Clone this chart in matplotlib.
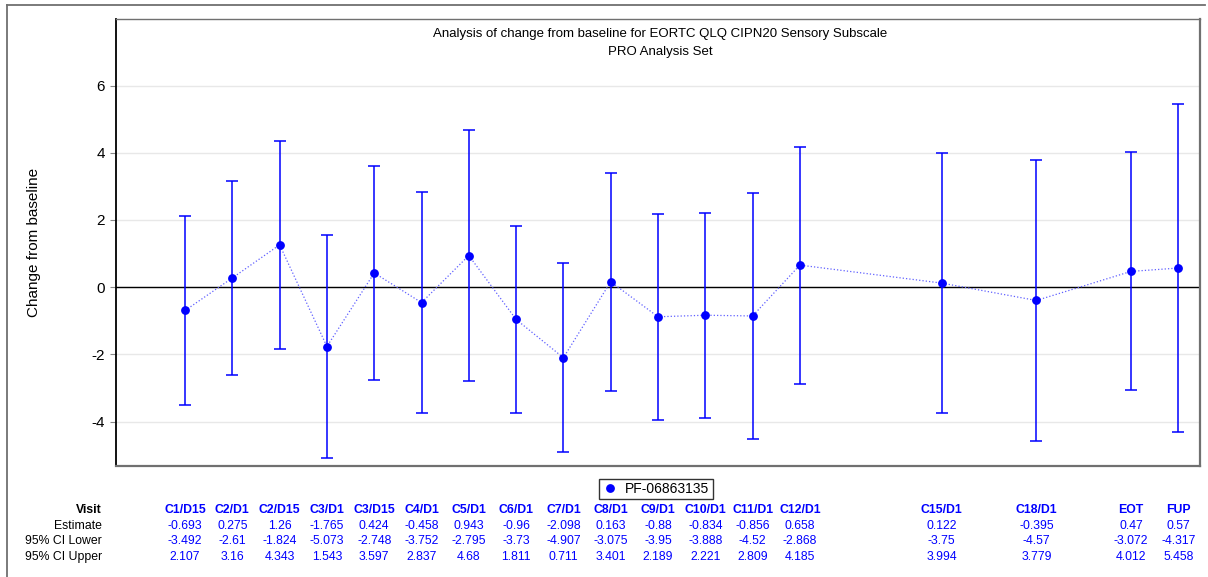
import numpy as np
import matplotlib
matplotlib.use("Agg")
import matplotlib.pyplot as plt
from matplotlib.lines import Line2D
from matplotlib.transforms import blended_transform_factory

plt.rcParams['font.family'] = ['Liberation Sans', 'DejaVu Sans']

visits = ['C1/D15', 'C2/D1', 'C2/D15', 'C3/D1', 'C3/D15', 'C4/D1', 'C5/D1', 'C6/D1',
          'C7/D1', 'C8/D1', 'C9/D1', 'C10/D1', 'C11/D1', 'C12/D1', 'C15/D1', 'C18/D1',
          'EOT', 'FUP']
xpos = [0, 1, 2, 3, 4, 5, 6, 7, 8, 9, 10, 11, 12, 13, 16, 18, 20, 21]
estimate = [-0.693, 0.275, 1.26, -1.765, 0.424, -0.458, 0.943, -0.96, -2.098, 0.163,
            -0.88, -0.834, -0.856, 0.658, 0.122, -0.395, 0.47, 0.57]
ci_lower = [-3.492, -2.61, -1.824, -5.073, -2.748, -3.752, -2.795, -3.73, -4.907, -3.075,
            -3.95, -3.888, -4.52, -2.868, -3.75, -4.57, -3.072, -4.317]
ci_upper = [2.107, 3.16, 4.343, 1.543, 3.597, 2.837, 4.68, 1.811, 0.711, 3.401,
            2.189, 2.221, 2.809, 4.185, 3.994, 3.779, 4.012, 5.458]
est_txt = ['-0.693', '0.275', '1.26', '-1.765', '0.424', '-0.458', '0.943', '-0.96', '-2.098',
           '0.163', '-0.88', '-0.834', '-0.856', '0.658', '0.122', '-0.395', '0.47', '0.57']
low_txt = ['-3.492', '-2.61', '-1.824', '-5.073', '-2.748', '-3.752', '-2.795', '-3.73', '-4.907',
           '-3.075', '-3.95', '-3.888', '-4.52', '-2.868', '-3.75', '-4.57', '-3.072', '-4.317']
up_txt = ['2.107', '3.16', '4.343', '1.543', '3.597', '2.837', '4.68', '1.811', '0.711',
          '3.401', '2.189', '2.221', '2.809', '4.185', '3.994', '3.779', '4.012', '5.458']
yticks = [-4, -2, 0, 2, 4, 6]
series_name = 'PF-06863135'

W, H = 1208, 577
fig = plt.figure(figsize=(W / 100, H / 100), dpi=100)
ax = fig.add_axes([116 / W, 1 - 466 / H, (1200 - 116) / W, (466 - 19) / H])

est = np.array(estimate)
lo = np.array(ci_lower)
hi = np.array(ci_upper)

ax.errorbar(xpos, est, yerr=[est - lo, hi - est], fmt='none', ecolor='#0000ff',
            elinewidth=1.1, capsize=4.5, capthick=1.1, zorder=3)
ax.plot(xpos, est, color='#6060ff', linestyle=':', linewidth=0.9, zorder=3)
ax.plot(xpos, est, 'o', color='#0000ff', markersize=5.3, zorder=4, label=series_name)
ax.axhline(0, color='black', linewidth=1, zorder=2)

ax.set_xlim(-1.46, 21.46)
ax.set_ylim(-5.32, 7.98)
ax.set_yticks(yticks)
ax.set_yticklabels([str(t) for t in yticks], fontsize=11)
ax.set_xticks([])
ax.yaxis.grid(True, color='#e8e8e8', linewidth=1)
ax.set_axisbelow(True)
ax.tick_params(axis='y', direction='out', length=4, color='#888888', pad=4)
ax.set_ylabel('Change from baseline', fontsize=11)
ax.yaxis.set_label_coords(-75 / (1200 - 116), 0.5)

ax.spines['left'].set_color('black')
ax.spines['left'].set_linewidth(1.3)
ax.spines['bottom'].set_color('#707070')
ax.spines['bottom'].set_linewidth(1.6)
ax.spines['top'].set_color('#707070')
ax.spines['top'].set_linewidth(1.0)
ax.spines['right'].set_color('#707070')
ax.spines['right'].set_linewidth(1.6)

fig.text(660 / W, 1 - 34 / H, 'Analysis of change from baseline for EORTC QLQ CIPN20 Sensory Subscale',
         ha='center', va='center', fontsize=9.5)
fig.text(660 / W, 1 - 52 / H, 'PRO Analysis Set', ha='center', va='center', fontsize=9.5)

leg = ax.legend(loc='center', bbox_to_anchor=(656 / W, 1 - 489 / H),
                bbox_transform=fig.transFigure, fontsize=10, frameon=True, fancybox=False,
                handlelength=1.0, handletextpad=0.6, borderpad=0.25, borderaxespad=0)
leg.get_frame().set_edgecolor('black')
leg.get_frame().set_linewidth(1.0)

# summary table under the chart
tr = blended_transform_factory(ax.transData, fig.transFigure)
row_y = [510, 526, 541, 557]
row_names = ['Visit', 'Estimate', '95% CI Lower', '95% CI Upper']
fs = 8.8
for name, y in zip(row_names, row_y):
    fig.text(102 / W, 1 - y / H, name, ha='right', va='center', fontsize=fs,
             fontweight='bold' if name == 'Visit' else 'normal')
for i, x in enumerate(xpos):
    ax.text(x, 1 - row_y[0] / H, visits[i], transform=tr, ha='center', va='center',
            fontsize=fs, fontweight='bold', color='#0000ff', clip_on=False)
    for txt, y in zip([est_txt[i], low_txt[i], up_txt[i]], row_y[1:]):
        ax.text(x, 1 - y / H, txt, transform=tr, ha='center', va='center',
                fontsize=fs, color='#0000ff', clip_on=False)

# outer frame (top and left edges)
fig.add_artist(Line2D([7 / W, 1205 / W], [1 - 5 / H, 1 - 5 / H], color='#707070', linewidth=1.3))
fig.add_artist(Line2D([7 / W, 7 / W], [1 - 5 / H, 0], color='#707070', linewidth=1.3))

fig.savefig('out.png', dpi=100)
